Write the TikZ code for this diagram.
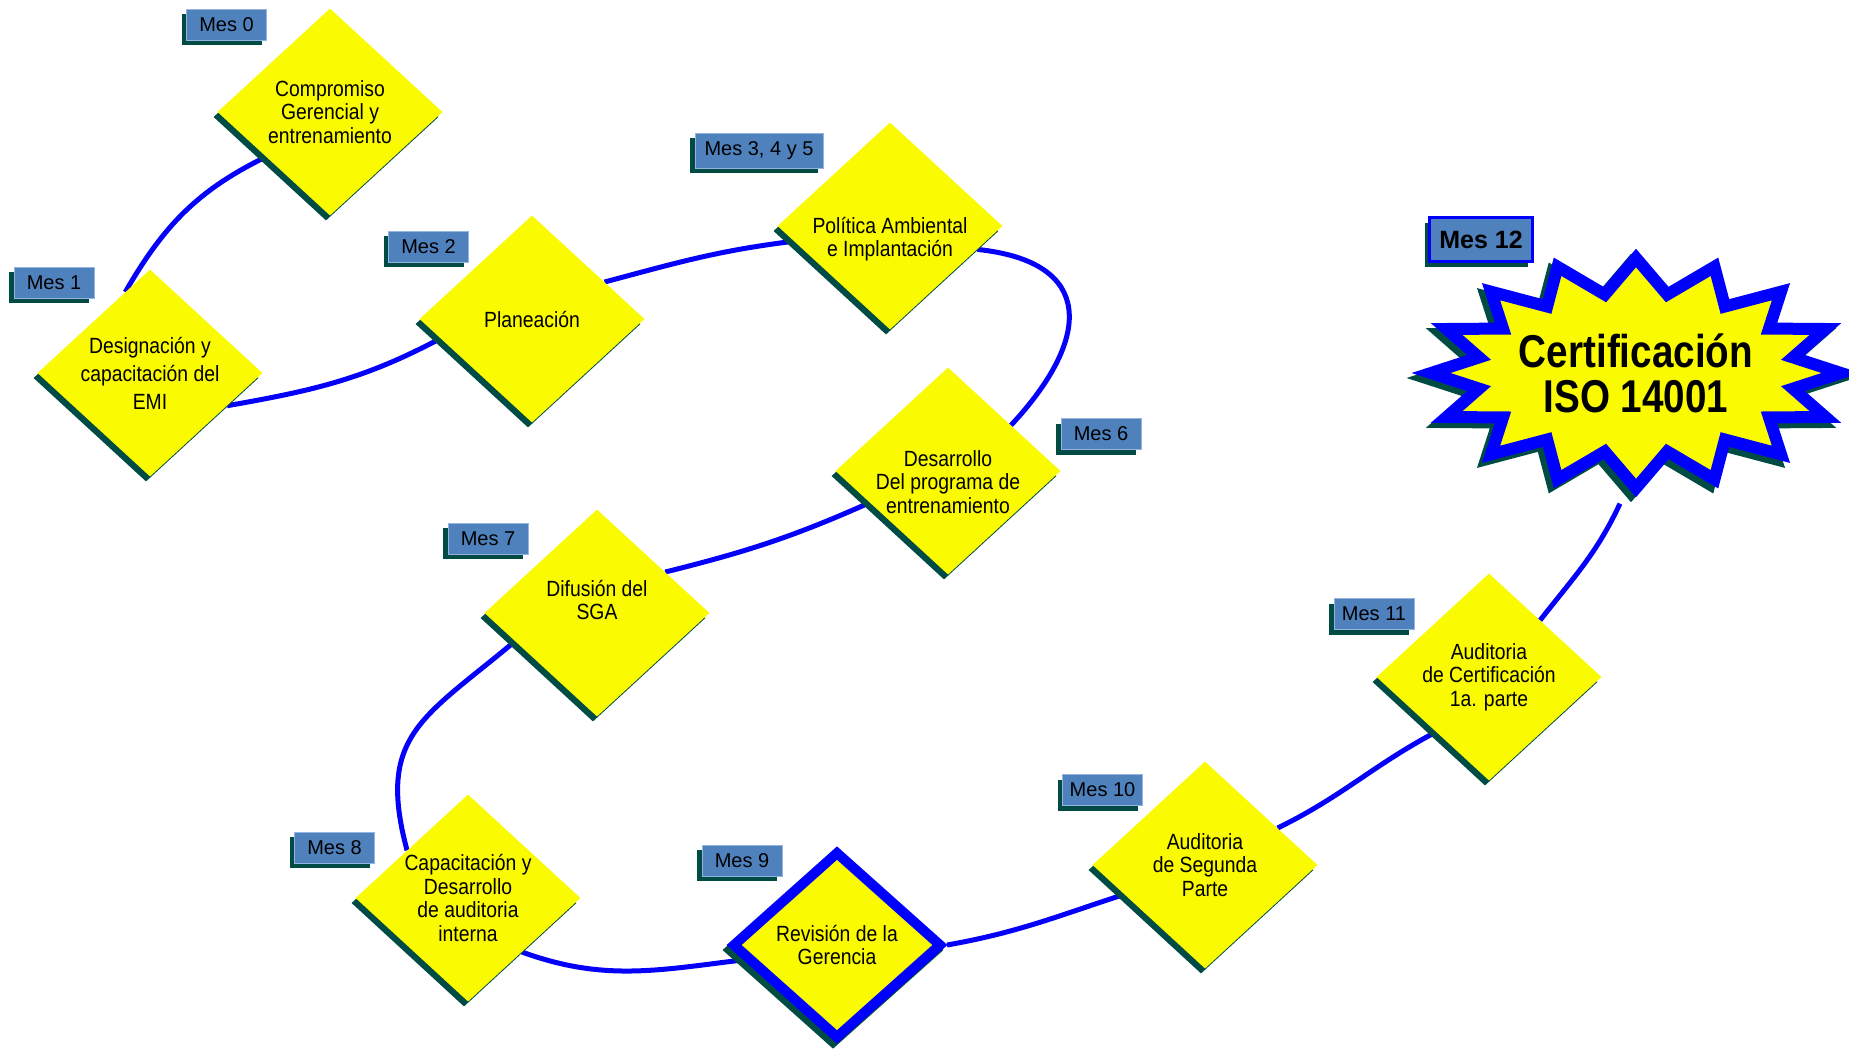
\documentclass[tikz,border=0pt]{standalone}
\usepackage{fontspec}
\setmainfont{Liberation Sans}
\newfontfamily\narrowfont{Liberation Sans}[FakeStretch=0.88]
\newfontfamily\certfont{Liberation Sans}[FakeStretch=0.84]
\usetikzlibrary{shapes.geometric,shadows}
\definecolor{amarillo}{RGB}{250,250,0}
\definecolor{sombra}{RGB}{0,76,68}
\definecolor{azulmes}{RGB}{79,129,189}
\definecolor{azulborde}{RGB}{150,180,225}
\definecolor{azulruta}{RGB}{5,0,250}
\pgfdeclarelayer{fondo}
\pgfsetlayers{fondo,main}

\begin{document}
\begin{tikzpicture}[x=1pt,y=1pt,
  paso/.style={diamond,fill=amarillo,minimum width=225pt,minimum height=207pt,inner sep=-6pt,
    align=center,font=\narrowfont\fontsize{22}{23.5}\selectfont,
    general shadow={fill=sombra,shadow xshift=-4pt,shadow yshift=-5pt}},
  mes/.style={rectangle,fill=azulmes,draw=azulborde,line width=0.8pt,minimum width=80pt,
    minimum height=31pt,inner sep=3pt,font=\fontsize{20}{22}\selectfont,
    general shadow={fill=sombra,shadow xshift=-5pt,shadow yshift=-5pt}},
  ruta/.style={draw=azulruta,line width=5pt},
  rayos/.style={insert path={plot[variable=\pk,samples at={0,...,31}]
    ({ifthenelse(mod(\pk,2)==0,205,160)*cos(90+11.25*\pk)},{ifthenelse(mod(\pk,2)==0,115,80)*sin(90+11.25*\pk)}) -- cycle}}]
\useasboundingbox (0,0) rectangle (1849,-1053);
\node[paso] (comp) at (330,-112) {Compromiso\\Gerencial y\\entrenamiento};
\node[paso,font=\narrowfont\fontsize{22}{28}\selectfont] (desig) at (150,-373) {Designación y\\capacitación del\\EMI};
\node[paso] (plan) at (532,-319) {Planeación};
\node[paso,inner sep=-16pt] (pol) at (890,-226) {\rule{0pt}{43pt}Política Ambiental\\e Implantación};
\node[paso,inner sep=-16pt] (des) at (948,-471) {\rule{0pt}{38pt}Desarrollo\\Del programa de\\entrenamiento};
\node[paso] (dif) at (597,-613) {Difusión del\\SGA\rule[-26pt]{0pt}{26pt}};
\node[paso] (cap) at (468,-898) {Capacitación y\\Desarrollo\\de auditoria\\interna};
\node[paso,draw=blue,line width=10pt,minimum width=210pt,minimum height=188pt,
  general shadow={fill=sombra,draw=sombra,line width=10pt,shadow xshift=-4pt,shadow yshift=-5pt}]
  (rev) at (837,-945) {Revisión de la\\Gerencia};
\node[paso] (aud2) at (1205,-865) {Auditoria\\de Segunda\\Parte};
\node[paso] (aud1) at (1489,-677) {Auditoria\\de Certificación\\1a. parte};
\node[ellipse,minimum width=300pt,minimum height=262pt,align=center,
  font=\certfont\bfseries\fontsize{46}{45}\selectfont] (cert) at (1636,-373) {Certificación\\ISO 14001};

\node[mes] (m0) at (226.5,-24.5) {Mes 0};
\node[mes] (m1) at (54,-282.5) {Mes 1};
\node[mes] (m2) at (428.5,-246.5) {Mes 2};
\node[mes,minimum width=128pt,minimum height=35pt] (m3) at (759,-150.5) {Mes 3, 4 y 5};
\node[mes] (m6) at (1101,-434) {Mes 6};
\node[mes] (m7) at (488,-538.5) {Mes 7};
\node[mes] (m8) at (334.5,-847.5) {Mes 8};
\node[mes] (m9) at (742,-860.5) {Mes 9};
\node[mes] (m10) at (1102.5,-790) {Mes 10};
\node[mes] (m11) at (1374,-614) {Mes 11};
\node[mes,draw=blue,line width=3pt,minimum width=103pt,minimum height=44pt,
  font=\bfseries\fontsize{25}{27}\selectfont] (m12) at (1481,-239.5) {Mes 12};

\begin{pgfonlayer}{fondo}
\draw[ruta] (comp.215) to[out=206,in=60] (desig.107);
\draw[ruta] (desig.-23) to[out=10,in=208] (plan.192);
\draw[ruta] (plan.27) to[out=15,in=187] (pol.189);
\draw[ruta] (pol.-15) to[out=-6,in=47,looseness=1.7] (des.36);
\draw[ruta] (des.202) to[out=204,in=14] (dif.31);
\draw[ruta] (dif.199) to[out=220,in=105,looseness=1.3] (cap.142);
\draw[ruta] (cap.-45) to[out=-20,in=187] (rev.189);
\draw[ruta] (rev.east) to[out=10,in=198] (aud2.200);
\draw[ruta] (aud2.27) to[out=26,in=208] (aud1.226);
\draw[ruta] (aud1.48) to[out=52,in=245] (cert.263);
\begin{scope}[shift={(cert.center)}]
  \path[shift={(-5,-5)},fill=sombra,draw=sombra,line width=12pt,rayos];
  \path[fill=amarillo,draw=blue,line width=12pt,rayos];
\end{scope}
\end{pgfonlayer}
\end{tikzpicture}
\end{document}
